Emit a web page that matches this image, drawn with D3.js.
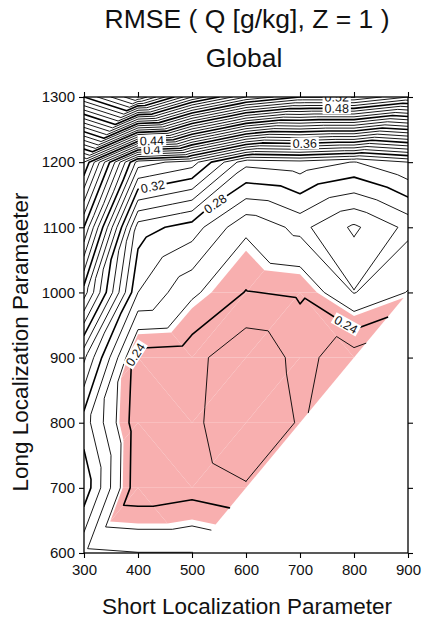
<!DOCTYPE html>
<html>
<head>
<meta charset="utf-8">
<script src="https://cdn.jsdelivr.net/npm/d3@7"></script>
<style>
  body { margin: 0; background: #fff; }
  svg { display: block; font-family: "Liberation Sans", Arial, Helvetica, sans-serif; }
</style>
</head>
<body>
<svg id="chart" width="422" height="621"></svg>
<script>
// grid of experiments
const shortParam = [300, 400, 500, 600, 700, 800, 900];
const longParam  = [600, 700, 800, 900, 1000, 1100, 1200, 1300];

// RMSE for each long-localization row, one value per short parameter (NaN = not run)
const rmseL600  = [0.262, 0.2603, 0.2603, NaN,    NaN,    NaN,    NaN];
const rmseL700  = [0.287, 0.232,  0.2355, 0.231,  NaN,    NaN,    NaN];
const rmseL800  = [0.275, 0.233,  0.2325, 0.221,  0.231,  NaN,    NaN];
const rmseL900  = [0.302, 0.235,  0.2335, 0.222,  0.233,  0.2245, NaN];
const rmseL1000 = [0.355, 0.270,  0.252,  0.2395, 0.2415, 0.2605, 0.2495];
const rmseL1100 = [0.400, 0.285,  0.275,  0.252,  0.263,  0.2482, 0.2627];
const rmseL1200 = [0.450, 0.345,  0.335,  0.293,  0.296,  0.2895, 0.300];
const rmseL1300 = [0.600, 0.640,  0.580,  0.540,  0.5201, 0.5202, 0.500];
const rmseRows = [rmseL600, rmseL700, rmseL800, rmseL900, rmseL1000, rmseL1100, rmseL1200, rmseL1300];

// contour levels, every 0.04 is annotated/thick
const levels = d3.range(20, 66).map(d => d / 100);
const pinkBelow = 0.2475;

// triangulation diagonal for each column of cells ('up' = lower-left to upper-right)
const cellDiag = ['up', 'down', 'up', 'up', 'down', 'up'];

const contourLabels = [
  {level: 0.24, s: 397, l: 904},
  {level: 0.24, s: 780, l: 944},
  {level: 0.28, s: 545, l: 1134},
  {level: 0.32, s: 428, l: 1160},
  {level: 0.36, s: 709, l: 1223},
  {level: 0.40, s: 426, l: 1215},
  {level: 0.44, s: 426, l: 1229},
  {level: 0.48, s: 768, l: 1284},
  {level: 0.52, s: 768, l: 1300}
];

const svg = d3.select('#chart');
const pLeft = 84, pRight = 408, pTop = 97, pBottom = 553;

const x = d3.scaleLinear().domain([300, 900]).range([pLeft, pRight]);
const y = d3.scaleLinear().domain([600, 1300]).range([pBottom, pTop]);

// ---- triangles
const tris = [];
for (let j = 0; j < longParam.length - 1; j++) {
  for (let i = 0; i < shortParam.length - 1; i++) {
    const c = [[i, j], [i + 1, j], [i + 1, j + 1], [i, j + 1]];
    const ok = c.map(([a, b]) => Number.isFinite(rmseRows[b][a]));
    if (ok.filter(Boolean).length < 3) continue;
    const diag = ok.every(Boolean) ? cellDiag[i] : 'up';
    const pair = diag === 'up'
      ? [[c[0], c[1], c[2]], [c[0], c[2], c[3]]]
      : [[c[0], c[1], c[3]], [c[1], c[2], c[3]]];
    pair.forEach(t => {
      if (t.every(([a, b]) => Number.isFinite(rmseRows[b][a]))) {
        tris.push(t.map(([a, b]) => ({i: a, j: b, s: shortParam[a], l: longParam[b], z: rmseRows[b][a]})));
      }
    });
  }
}

function edgeKey(a, b) {
  const ka = a.i * 100 + a.j, kb = b.i * 100 + b.j;
  return ka < kb ? ka + '-' + kb : kb + '-' + ka;
}

function isolines(level) {
  const segs = [];
  tris.forEach(t => {
    const pts = [];
    for (let k = 0; k < 3; k++) {
      const a = t[k], b = t[(k + 1) % 3];
      if ((a.z >= level) !== (b.z >= level)) {
        const f = (level - a.z) / (b.z - a.z);
        pts.push({key: edgeKey(a, b), s: a.s + f * (b.s - a.s), l: a.l + f * (b.l - a.l)});
      }
    }
    if (pts.length === 2) segs.push(pts);
  });
  const ends = new Map();
  segs.forEach((sg, n) => sg.forEach(p => {
    if (!ends.has(p.key)) ends.set(p.key, []);
    ends.get(p.key).push(n);
  }));
  const used = new Set();
  const lines = [];
  const grow = (arr, atEnd) => {
    while (true) {
      const p = atEnd ? arr[arr.length - 1] : arr[0];
      const next = (ends.get(p.key) || []).find(m => !used.has(m));
      if (next === undefined) break;
      used.add(next);
      const q = segs[next][0].key === p.key ? segs[next][1] : segs[next][0];
      if (atEnd) arr.push(q); else arr.unshift(q);
    }
  };
  segs.forEach((sg, n) => {
    if (used.has(n)) return;
    used.add(n);
    const ln = [sg[0], sg[1]];
    grow(ln, true);
    grow(ln, false);
    lines.push(ln);
  });
  return lines;
}

function clipBelow(t, thr) {
  const out = [];
  for (let k = 0; k < 3; k++) {
    const a = t[k], b = t[(k + 1) % 3];
    const ain = a.z < thr, bin = b.z < thr;
    if (ain) out.push([a.s, a.l]);
    if (ain !== bin) {
      const f = (thr - a.z) / (b.z - a.z);
      out.push([a.s + f * (b.s - a.s), a.l + f * (b.l - a.l)]);
    }
  }
  return out;
}

svg.append('defs').append('clipPath').attr('id', 'plotclip')
  .append('rect').attr('x', pLeft).attr('y', pTop).attr('width', pRight - pLeft).attr('height', pBottom - pTop);

const plot = svg.append('g').attr('clip-path', 'url(#plotclip)');

// ---- pink area, one polygon per triangle
plot.append('g').selectAll('path')
  .data(tris.map(t => clipBelow(t, pinkBelow)).filter(p => p.length >= 3))
  .join('path')
  .attr('d', p => 'M' + p.map(q => x(q[0]) + ',' + y(q[1])).join('L') + 'Z')
  .attr('fill', '#f8afaf');

// ---- contour lines
const line = d3.line().x(p => x(p.s)).y(p => y(p.l));
const isMajor = lv => Math.round(lv * 100) % 4 === 0;
const allLines = new Map();
levels.forEach(lv => allLines.set(lv, isolines(lv)));

const lineG = plot.append('g').attr('fill', 'none').attr('stroke', '#000')
  .attr('stroke-linejoin', 'round').attr('stroke-linecap', 'round');
levels.forEach(lv => {
  lineG.selectAll(null)
    .data(allLines.get(lv))
    .join('path')
    .attr('d', line)
    .attr('stroke-width', isMajor(lv) ? 1.6 : 0.9);
});

// point at a given arc distance along a pixel polyline
function walk(pts, k, u, dist) {
  let px = pts[k][0] + u * (pts[k + 1][0] - pts[k][0]);
  let py = pts[k][1] + u * (pts[k + 1][1] - pts[k][1]);
  let left = Math.abs(dist);
  let idx = dist > 0 ? k + 1 : k;
  while (left > 0 && idx >= 0 && idx < pts.length) {
    const d = Math.hypot(pts[idx][0] - px, pts[idx][1] - py);
    if (d >= left) {
      px += (pts[idx][0] - px) * left / d;
      py += (pts[idx][1] - py) * left / d;
      return [px, py];
    }
    left -= d;
    px = pts[idx][0]; py = pts[idx][1];
    idx += dist > 0 ? 1 : -1;
  }
  return [px, py];
}

// ---- labels along lines
const labelG = plot.append('g');
contourLabels.forEach(lb => {
  const key = levels.find(v => Math.abs(v - lb.level) < 1e-9);
  const lines = allLines.get(key) || [];
  const ax = x(lb.s), ay = y(lb.l);
  let best = null;
  lines.forEach(ln => {
    const pts = ln.map(p => [x(p.s), y(p.l)]);
    for (let k = 0; k < pts.length - 1; k++) {
      const [x0, y0] = pts[k], [x1, y1] = pts[k + 1];
      const dx = x1 - x0, dy = y1 - y0;
      const len2 = dx * dx + dy * dy || 1;
      const u = Math.max(0, Math.min(1, ((ax - x0) * dx + (ay - y0) * dy) / len2));
      const px = x0 + u * dx, py = y0 + u * dy;
      const d = Math.hypot(px - ax, py - ay);
      if (!best || d < best.d) best = {d, px, py, pts, k, u};
    }
  });
  if (!best) return;
  const a = walk(best.pts, best.k, best.u, -11);
  const b = walk(best.pts, best.k, best.u, 11);
  let ang = Math.atan2(b[1] - a[1], b[0] - a[0]) * 180 / Math.PI;
  if (ang > 90) ang -= 180;
  if (ang < -90) ang += 180;
  const txt = String(+lb.level.toFixed(2));
  const g = labelG.append('g').attr('transform', `translate(${best.px},${best.py}) rotate(${ang})`);
  const t = g.append('text').attr('text-anchor', 'middle').attr('dy', '0.36em')
    .attr('font-size', 12.5).attr('fill', '#111').text(txt);
  const w = t.node().getComputedTextLength();
  g.insert('rect', 'text').attr('x', -w / 2 - 2).attr('y', -6).attr('width', w + 4).attr('height', 12).attr('fill', '#fff');
});

// ---- axes
const tickStyle = g => {
  g.select('.domain').remove();
  g.selectAll('.tick line').attr('stroke', '#000').attr('stroke-width', 1.1);
  g.selectAll('.tick text').attr('font-size', 15).attr('fill', '#111');
};
svg.append('g').attr('transform', `translate(0,${pBottom})`)
  .call(d3.axisBottom(x).tickValues(shortParam).tickSize(5).tickPadding(6).tickFormat(d3.format('d')))
  .call(tickStyle);
svg.append('g').attr('transform', `translate(0,${pTop})`)
  .call(d3.axisTop(x).tickValues(shortParam).tickSize(5).tickFormat(''))
  .call(tickStyle);
svg.append('g').attr('transform', `translate(${pLeft},0)`)
  .call(d3.axisLeft(y).tickValues(longParam).tickSize(5).tickPadding(4).tickFormat(d3.format('d')))
  .call(tickStyle);
svg.append('g').attr('transform', `translate(${pRight},0)`)
  .call(d3.axisRight(y).tickValues(longParam).tickSize(5).tickFormat(''))
  .call(tickStyle);

svg.append('rect').attr('x', pLeft).attr('y', pTop).attr('width', pRight - pLeft).attr('height', pBottom - pTop)
  .attr('fill', 'none').attr('stroke', '#000').attr('stroke-width', 1.3);

// ---- titles
svg.append('text').attr('x', 247).attr('y', 28).attr('text-anchor', 'middle')
  .attr('font-size', 26.5).attr('fill', '#111').text('RMSE ( Q [g/kg], Z = 1 )');
svg.append('text').attr('x', 244).attr('y', 67).attr('text-anchor', 'middle')
  .attr('font-size', 26.5).attr('fill', '#111').text('Global');
svg.append('text').attr('x', 247).attr('y', 614).attr('text-anchor', 'middle')
  .attr('font-size', 22.5).attr('fill', '#111').text('Short Localization Parameter');
svg.append('text').attr('transform', 'translate(28,342) rotate(-90)').attr('text-anchor', 'middle')
  .attr('font-size', 22.5).attr('fill', '#111').text('Long Localization Paramaeter');
</script>
</body>
</html>
